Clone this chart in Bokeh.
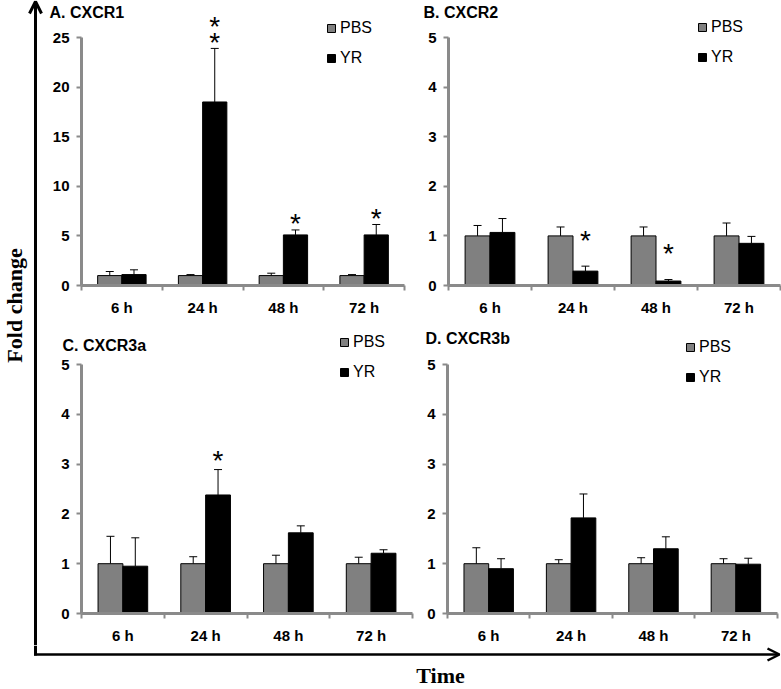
import numpy as np
from bokeh.plotting import figure
from bokeh.models import (Range1d, FixedTicker, ColumnDataSource, Whisker, TeeHead,
                          Legend, LegendItem, Label, Arrow, OpenHead)
from bokeh.layouts import row, column
from bokeh.core.properties import value
from bokeh.embed import file_html
from bokeh.resources import INLINE

# ---------------- data ----------------
categories = ["6 h", "24 h", "48 h", "72 h"]
series_names = ["PBS", "YR"]

a_title = "A. CXCR1"
a_pbs = [1.0, 1.0, 1.0, 1.0]
a_pbs_err = [0.41, 0.10, 0.24, 0.10]
a_yr = [1.10, 18.5, 5.10, 5.10]
a_yr_err = [0.48, 5.40, 0.50, 1.05]
a_sig = ["", "**", "*", "*"]
a_ticks = [0, 5, 10, 15, 20, 25]

b_title = "B. CXCR2"
b_pbs = [1.0, 1.0, 1.0, 1.0]
b_pbs_err = [0.21, 0.18, 0.18, 0.26]
b_yr = [1.07, 0.29, 0.09, 0.85]
b_yr_err = [0.28, 0.10, 0.03, 0.14]
b_sig = ["", "*", "*", ""]
b_ticks = [0, 1, 2, 3, 4, 5]

c_title = "C. CXCR3a"
c_pbs = [1.0, 1.0, 1.0, 1.0]
c_pbs_err = [0.55, 0.14, 0.17, 0.13]
c_yr = [0.95, 2.38, 1.62, 1.21]
c_yr_err = [0.57, 0.51, 0.14, 0.07]
c_sig = ["", "*", "", ""]
c_ticks = [0, 1, 2, 3, 4, 5]

d_title = "D. CXCR3b"
d_pbs = [1.0, 1.0, 1.0, 1.0]
d_pbs_err = [0.32, 0.08, 0.12, 0.10]
d_yr = [0.90, 1.92, 1.30, 0.99]
d_yr_err = [0.20, 0.48, 0.24, 0.12]
d_sig = ["", "", "", ""]
d_ticks = [0, 1, 2, 3, 4, 5]

y_title = "Fold change"
x_title = "Time"

# ---------------- style ----------------
GRAY = "#808080"
AXIS_GRAY = "#8a8a8a"
SANS = "Liberation Sans"
SERIF = "Liberation Serif"
STAR_FS = 28
STAR_RISE = 0.18 * STAR_FS   # visual centre of "*" above its anchor


def make_panel(title, pbs, pbs_err, yr, yr_err, sig, ticks, lay):
    cx, cy, W, H = lay["cx"], lay["cy"], lay["w"], lay["h"]
    x0, y0 = lay["origin"]          # page pixel of data (0, 0)
    xs, ys = lay["xs"], lay["ys"]   # pixels per data unit
    ncat = len(categories)
    p = figure(width=W, height=H,
               x_range=Range1d((cx - x0) / xs, (cx + W - x0) / xs),
               y_range=Range1d((y0 - (cy + H)) / ys, (y0 - cy) / ys),
               output_backend="svg", toolbar_location=None, title=None,
               min_border=0, outline_line_color=None,
               background_fill_color="white", border_fill_color="white")
    p.xgrid.visible = False
    p.ygrid.visible = False

    def to_data(px, py):
        return (px - x0) / xs, (y0 - py) / ys

    centers = np.arange(ncat) + 0.5
    off, bw = 0.15, 0.3
    pbs = np.array(pbs); pbs_err = np.array(pbs_err)
    yr = np.array(yr); yr_err = np.array(yr_err)

    src_p = ColumnDataSource(dict(x=centers - off, top=pbs, lower=pbs, upper=pbs + pbs_err))
    src_y = ColumnDataSource(dict(x=centers + off, top=yr, lower=yr, upper=yr + yr_err))

    for src in (src_p, src_y):
        p.add_layout(Whisker(source=src, base="x", lower="lower", upper="upper",
                             dimension="height", line_color="black", line_width=1,
                             upper_head=TeeHead(size=8, line_color="black", line_width=1),
                             lower_head=None))
    r_p = p.vbar(x="x", top="top", bottom=0, width=bw, source=src_p,
                 fill_color=GRAY, line_color="black", line_width=1)
    r_y = p.vbar(x="x", top="top", bottom=0, width=bw, source=src_y,
                 fill_color="black", line_color="black", line_width=1)

    # significance stars above the YR error bars
    sx_, sy_, st_, so_ = [], [], [], []
    for i, s in enumerate(sig):
        for k in range(len(s)):
            sx_.append(centers[i] + off)
            sy_.append(yr[i] + yr_err[i])
            st_.append("*")
            so_.append(STAR_RISE - lay["star_gap"] - 16 * k)
    if st_:
        ssrc = ColumnDataSource(dict(x=sx_, y=sy_, t=st_, o=so_))
        p.text(x="x", y="y", text="t", y_offset="o", source=ssrc,
               text_font=value(SANS), text_font_size=f"{STAR_FS}px",
               text_align="center", text_baseline="alphabetic", text_color="black")

    # axes drawn at the data origin
    p.yaxis.fixed_location = 0
    p.yaxis.ticker = FixedTicker(ticks=ticks)
    p.yaxis.bounds = (ticks[0], ticks[-1])
    p.yaxis.axis_line_color = AXIS_GRAY
    p.yaxis.axis_line_width = 3
    p.yaxis.major_tick_line_color = AXIS_GRAY
    p.yaxis.major_tick_line_width = 2
    p.yaxis.major_tick_in = 0
    p.yaxis.major_tick_out = 5
    p.yaxis.minor_tick_line_color = None
    p.yaxis.major_label_text_font = SANS
    p.yaxis.major_label_text_font_style = "bold"
    p.yaxis.major_label_text_font_size = "15px"
    p.yaxis.major_label_text_color = "black"
    p.yaxis.major_label_standoff = 7

    p.xaxis.fixed_location = 0
    p.xaxis.ticker = FixedTicker(ticks=list(centers), minor_ticks=list(range(ncat + 1)))
    p.xaxis.major_label_overrides = {float(c): lab for c, lab in zip(centers, categories)}
    p.xaxis.bounds = (0, ncat)
    p.xaxis.axis_line_color = AXIS_GRAY
    p.xaxis.axis_line_width = 3
    p.xaxis.major_tick_line_color = None
    p.xaxis.major_tick_in = 0
    p.xaxis.major_tick_out = 0
    p.xaxis.minor_tick_line_color = AXIS_GRAY
    p.xaxis.minor_tick_line_width = 2
    p.xaxis.minor_tick_in = 0
    p.xaxis.minor_tick_out = 5
    p.xaxis.major_label_text_font = SANS
    p.xaxis.major_label_text_font_style = "bold"
    p.xaxis.major_label_text_font_size = "15px"
    p.xaxis.major_label_text_color = "black"
    p.xaxis.major_label_standoff = 8

    # panel title
    tx, ty = to_data(*lay["title"])
    p.add_layout(Label(x=tx, y=ty, text=title, text_font=SANS, text_font_style="bold",
                       text_font_size="16px", text_align="left", text_baseline="middle",
                       text_color="black"))

    # legend (target = top-left corner of the first legend square, page pixels)
    gl_x, gl_y = lay["legend"]
    item_h, spacing, gsz = 19, 11, 10
    leg_h = 2 * item_h + spacing
    top = gl_y - (item_h - gsz) / 2
    legend = Legend(items=[LegendItem(label=series_names[0], renderers=[r_p]),
                           LegendItem(label=series_names[1], renderers=[r_y])],
                    location=(gl_x - 1 - cx, (cy + H) - (top + leg_h)),
                    orientation="vertical", glyph_width=gsz, glyph_height=gsz,
                    label_height=item_h, spacing=spacing, padding=0, margin=0,
                    label_standoff=4, border_line_color=None,
                    background_fill_alpha=0,
                    label_text_font=SANS, label_text_font_size="16px",
                    label_text_color="black")
    p.add_layout(legend)
    return p


lay_a = dict(cx=44, cy=0, w=376, h=328, origin=(81, 285), xs=80.75, ys=9.92,
             title=(49, 12), legend=(327, 23), star_gap=11)
lay_b = dict(cx=420, cy=0, w=361, h=328, origin=(448, 285), xs=83.0, ys=49.6,
             title=(423, 12), legend=(698, 22), star_gap=31)
lay_c = dict(cx=44, cy=328, w=376, h=317, origin=(81, 613), xs=82.75, ys=49.8,
             title=(62, 345), legend=(340, 337), star_gap=14)
lay_d = dict(cx=420, cy=328, w=361, h=317, origin=(447, 613), xs=82.4, ys=49.8,
             title=(425, 338), legend=(686, 342), star_gap=14)

pa = make_panel(a_title, a_pbs, a_pbs_err, a_yr, a_yr_err, a_sig, a_ticks, lay_a)
pb = make_panel(b_title, b_pbs, b_pbs_err, b_yr, b_yr_err, b_sig, b_ticks, lay_b)
pc = make_panel(c_title, c_pbs, c_pbs_err, c_yr, c_yr_err, c_sig, c_ticks, lay_c)
pd = make_panel(d_title, d_pbs, d_pbs_err, d_yr, d_yr_err, d_sig, d_ticks, lay_d)


def blank(w, h, xr, yr):
    f = figure(width=w, height=h, x_range=Range1d(*xr), y_range=Range1d(*yr),
               output_backend="svg", toolbar_location=None, title=None,
               min_border=0, outline_line_color=None,
               background_fill_color="white", border_fill_color="white")
    f.axis.visible = False
    f.grid.visible = False
    return f


# left strip: vertical arrow and y title (coordinates = page pixels)
left = blank(44, 645, (0, 44), (645, 0))
left.add_layout(Arrow(x_start=35, y_start=645, x_end=35, y_end=1,
                      line_width=3, line_color="black",
                      end=OpenHead(size=12, line_width=3, line_color="black")))
left.text(x=[14], y=[305], text=[y_title], angle=np.pi / 2,
          text_font=value(SERIF), text_font_style="bold", text_font_size="22px",
          text_align="center", text_baseline="middle", text_color="black")

# bottom strip: horizontal arrow and x title
bottom = blank(781, 44, (0, 781), (689, 645))
bottom.segment(x0=[35], y0=[645], x1=[35], y1=[655], line_width=3, line_color="black")
bottom.add_layout(Arrow(x_start=33.5, y_start=654, x_end=779, y_end=654,
                        line_width=2.5, line_color="black",
                        end=OpenHead(size=12, line_width=2.5, line_color="black")))
bottom.text(x=[440], y=[675], text=[x_title],
            text_font=value(SERIF), text_font_style="bold", text_font_size="22px",
            text_align="center", text_baseline="middle", text_color="black")

layout = column(row(left, column(row(pa, pb), row(pc, pd))), bottom)

open("out.html", "w").write(file_html(layout, INLINE))
